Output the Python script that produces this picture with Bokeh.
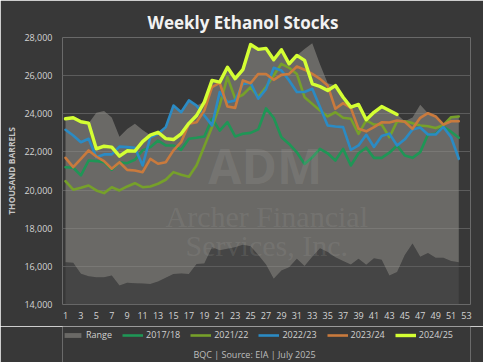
from bokeh.plotting import figure
from bokeh.layouts import column
from bokeh.models import Range1d, FixedTicker, NumeralTickFormatter, Legend, LegendItem, Label
from bokeh.embed import file_html
from bokeh.resources import INLINE

weeks = [1, 2, 3, 4, 5, 6, 7, 8, 9, 10, 11, 12, 13, 14, 15, 16, 17, 18, 19, 20, 21, 22, 23, 24, 25, 26,
         27, 28, 29, 30, 31, 32, 33, 34, 35, 36, 37, 38, 39, 40, 41, 42, 43, 44, 45, 46, 47, 48, 49, 50, 51, 52]
x_ticks = [1, 3, 5, 7, 9, 11, 13, 15, 17, 19, 21, 23, 25, 27, 29, 31, 33, 35, 37, 39, 41, 43, 45, 47, 49, 51, 53]
y_ticks = [14000, 16000, 18000, 20000, 22000, 24000, 26000, 28000]

range_low = [16220, 16190, 15610, 15480, 15430, 15430, 15520, 15000, 15140, 15110, 15100, 15080, 15200,
             15400, 15600, 15620, 15600, 16130, 16150, 17000, 16850, 16920, 17000, 17130, 17050, 16600,
             16100, 15350, 15780, 15950, 16400, 16020, 16500, 16950, 16750, 16480, 16280, 16100, 16400,
             16080, 16420, 16350, 15520, 15700, 16600, 17200, 16500, 16700, 16450, 16450, 16280, 16220]
range_high = [23740, 23790, 23610, 23510, 24050, 24150, 23800, 22800, 23200, 23480, 23150, 22880, 23030,
              23300, 24430, 24080, 24700, 24430, 24610, 25750, 25660, 26440, 25840, 26310, 27630, 27410,
              27460, 26830, 27360, 26620, 27060, 27400, 27700, 26600, 25600, 25480, 24870, 24350, 24490,
              23690, 24080, 24380, 24170, 23960, 23610, 23800, 24470, 24030, 23860, 23440, 23820, 23860]

s_1718 = [21200, 21170, 20770, 21550, 21520, 21460, 21060, 21460, 21410, 21590, 22080, 22250, 22600,
          22340, 22340, 22110, 22690, 22740, 22810, 23740, 23120, 23560, 22810, 22950, 23000, 23180,
          24280, 23790, 22770, 22420, 21980, 21370, 21720, 22160, 21930, 21550, 22160, 21290, 21930,
          22220, 21690, 21690, 21960, 22340, 21810, 21690, 21990, 22910, 22950, 23320, 23060, 22740]
s_2122 = [20470, 20020, 20120, 20240, 19980, 19840, 20150, 19980, 20190, 20360, 20150, 20190, 20330,
          20540, 20940, 20800, 20700, 21300, 22300, 23300, 24450, 25920, 24800, 25000, 25400, 24880,
          25400, 26010, 26620, 26410, 26090, 24870, 24520, 24170, 23860, 24080, 23790, 23740, 22950,
          23650, 23430, 23440, 22770, 23600, 23610, 23510, 23390, 23350, 23250, 23400, 23820, 23860]
s_2223 = [23160, 22860, 22510, 22690, 21720, 21870, 21870, 22280, 22250, 22220, 21290, 22770, 22950,
          23300, 24430, 24080, 24700, 24430, 23910, 23390, 25140, 24610, 24700, 25570, 25620, 24790,
          25290, 26410, 26270, 25750, 25140, 25140, 25310, 24350, 23390, 23330, 23300, 22110, 22340,
          22900, 22260, 22830, 22960, 22340, 22660, 23180, 23280, 22910, 22910, 23310, 22770, 21640]
s_2324 = [21690, 21200, 21640, 22080, 21760, 21520, 21120, 21460, 21060, 21030, 20940, 21640, 21380,
          21460, 22080, 22510, 23480, 23560, 24170, 25400, 25620, 24380, 24310, 25750, 25600, 26090,
          26090, 25780, 26040, 26090, 26480, 26310, 26090, 25830, 25480, 24260, 24560, 24310, 23210,
          23080, 23300, 23550, 23540, 23650, 23580, 23210, 23790, 24030, 23860, 23430, 23610, 23610]
s_2425 = [23740, 23790, 23580, 23510, 22160, 22300, 22250, 21780, 22060, 22040, 22540, 22880, 23030,
          22700, 22650, 22950, 23500, 23910, 24610, 25750, 25660, 26440, 25840, 26310, 27630, 27380,
          27430, 26830, 27360, 26620, 27060, 26800, 25570, 25430, 25220, 25480, 24870, 24350, 24490,
          23690, 24080, 24380, 24170, 23960]
weeks_2425 = weeks[:len(s_2425)]

series = [
    ("2017/18", s_1718, "#1f9656", 2.6),
    ("2021/22", s_2122, "#76a02a", 2.6),
    ("2022/23", s_2223, "#2b8bc4", 2.6),
    ("2023/24", s_2324, "#c97a3d", 2.6),
    ("2024/25", s_2425, "#d4ff33", 3.4),
]
RANGE_FILL = "#8c8a85"

BG = "#383838"
FONT = "Open Sans"

p = figure(width=483, height=326, x_range=Range1d(0.611, 53.519), y_range=Range1d(14000, 28000),
           output_backend="svg", toolbar_location=None,
           min_border_left=62, min_border_right=13, min_border_top=37, min_border_bottom=22,
           background_fill_color=BG, border_fill_color=BG, outline_line_color=None)

p.title.text = "Weekly Ethanol Stocks"
p.title.align = "left"
p.title.offset = 85
p.title.text_font = FONT
p.title.text_font_size = "17px"
p.title.text_font_style = "bold"
p.title.text_color = "#f2f2f2"
p.title.standoff = 7

# axes
p.xaxis.ticker = FixedTicker(ticks=x_ticks)
p.yaxis.ticker = FixedTicker(ticks=y_ticks)
p.yaxis.formatter = NumeralTickFormatter(format="0,0")
for ax in (p.xaxis, p.yaxis):
    ax.axis_line_color = None
    ax.major_tick_line_color = None
    ax.minor_tick_line_color = None
    ax.major_tick_out = 0
    ax.major_tick_in = 0
    ax.minor_tick_out = 0
    ax.major_label_text_font = FONT
    ax.major_label_text_font_size = "9px"
    ax.major_label_text_color = "#d4d4d4"
p.xaxis.major_label_standoff = 7
p.yaxis.major_label_standoff = 10
p.yaxis.axis_label = "THOUSAND BARRELS"
p.yaxis.axis_label_text_font = FONT
p.yaxis.axis_label_text_font_size = "8.5px"
p.yaxis.axis_label_text_font_style = "bold"
p.yaxis.axis_label_text_color = "#c4c4c4"
p.yaxis.axis_label_standoff = 4

p.xgrid.grid_line_color = None
p.ygrid.grid_line_color = "#5c5c5c"
p.ygrid.grid_line_width = 1

# range areas
p.varea(x=weeks, y1=14000, y2=range_low, fill_color="#5e5e5e", fill_alpha=0.35)
p.varea(x=weeks, y1=range_low, y2=range_high, fill_color=RANGE_FILL, fill_alpha=0.6)

# watermark
p.add_layout(Label(x=26.9, y=21300, text="ADM", text_font=FONT, text_font_style="bold",
                   text_font_size="48px", text_color="#a9a7a2", text_alpha=0.2,
                   text_align="center", text_baseline="middle"))
p.add_layout(Label(x=27.1, y=18600, text="Archer Financial", text_font="Liberation Serif",
                   text_font_size="30px", text_color="#a9a7a2", text_alpha=0.18,
                   text_align="center", text_baseline="middle"))
p.add_layout(Label(x=27.1, y=17100, text="Services, Inc.", text_font="Liberation Serif",
                   text_font_size="30px", text_color="#a9a7a2", text_alpha=0.18,
                   text_align="center", text_baseline="middle"))

for name, vals, col, lw in series:
    xs = weeks if len(vals) == len(weeks) else weeks_2425
    p.line(xs, vals, line_color=col, line_width=lw, line_join="round", line_cap="round")

# footer figure: legend + source note (its series lie outside its view; used only by the legend)
f = figure(width=483, height=36, x_range=Range1d(62, 470), y_range=Range1d(0, 36),
           output_backend="svg", toolbar_location=None, x_axis_location=None, y_axis_location=None,
           min_border_left=62, min_border_right=13, min_border_top=0, min_border_bottom=0,
           background_fill_color=BG, border_fill_color=BG, outline_line_color=None)
f.grid.visible = False

fr = f.varea(x=weeks, y1=range_low, y2=range_high, fill_color=RANGE_FILL, fill_alpha=0.6)
items = [LegendItem(label="Range", renderers=[fr])]
for name, vals, col, lw in series:
    xs = weeks if len(vals) == len(weeks) else weeks_2425
    r = f.line(xs, vals, line_color=col, line_width=lw)
    items.append(LegendItem(label=name, renderers=[r]))

legend = Legend(items=items, orientation="horizontal", location=(0, 21),
                label_text_font=FONT, label_text_font_size="9px", label_text_color="#d0d0d0",
                background_fill_alpha=0, border_line_alpha=0, glyph_width=21, glyph_height=6,
                label_standoff=3, spacing=10, padding=0, margin=0, label_height=12)
f.add_layout(legend, "center")

f.add_layout(Label(x=254, y=8, text="BQC | Source: EIA | July 2025", text_font=FONT,
                   text_font_size="9px", text_color="#bdbdbd", text_align="center",
                   text_baseline="middle"))

open("out.html", "w").write(file_html(column(p, f), INLINE))
